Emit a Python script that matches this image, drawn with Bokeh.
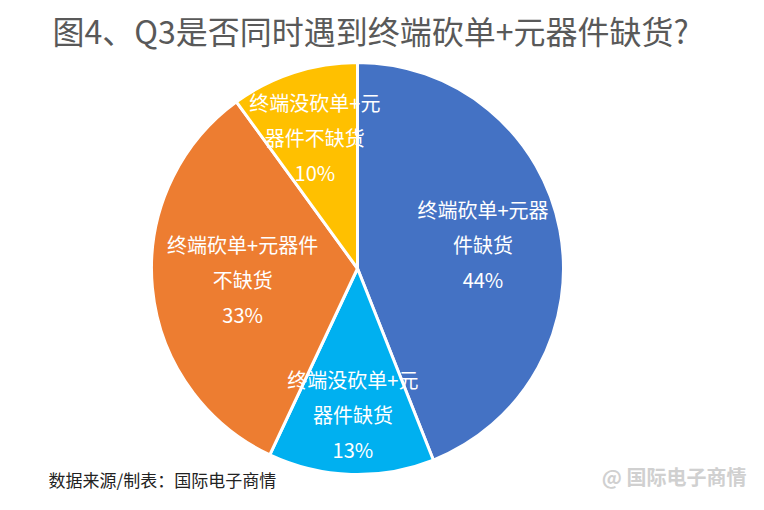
import math
from bokeh.plotting import figure
from bokeh.models import Range1d, ColumnDataSource
from bokeh.core.properties import value
from bokeh.embed import file_html
from bokeh.resources import INLINE

# ---- data ----
categories = ["终端砍单+元器件缺货", "终端没砍单+元器件缺货", "终端砍单+元器件不缺货", "终端没砍单+元器件不缺货"]
shares = [44, 13, 33, 10]
colors = ["#4472C4", "#00B0F0", "#ED7D31", "#FFC000"]
title_text = "图4、Q3是否同时遇到终端砍单+元器件缺货?"
source_text = "数据来源/制表：国际电子商情"
watermark_text = "@ 国际电子商情"

# ---- layout ----
W, H = 748, 494
wrap_at = [7, 7, 8, 7]              # characters on first label line
label_r = [0.62, 0.71, 0.56, 0.67]  # label distance as fraction of radius
REF_H = 510
CX, CY, R = 357, REF_H - 268, 206
LINE = 35
FONT = "Noto Sans CJK SC"

p = figure(width=W, height=H, output_backend="svg", toolbar_location=None,
           x_range=Range1d(0, W), y_range=Range1d(REF_H - H, REF_H),
           min_border=0, border_fill_color="white", background_fill_color="white")
p.axis.visible = False
p.grid.visible = False
p.outline_line_color = None

total = sum(shares)
cum = 0
starts, ends, mids = [], [], []
for s in shares:
    a0 = math.pi / 2 - 2 * math.pi * cum / total
    cum += s
    a1 = math.pi / 2 - 2 * math.pi * cum / total
    starts.append(a1)
    ends.append(a0)
    mids.append((a0 + a1) / 2)

src = ColumnDataSource(dict(start=starts, end=ends, color=colors))
p.wedge(x=CX, y=CY, radius=R, start_angle="start", end_angle="end",
        fill_color="color", line_color="white", line_width=3, source=src)

lx, ly, lt = [], [], []
for cat, s, m, w, rf in zip(categories, shares, mids, wrap_at, label_r):
    lines = [cat[:w], cat[w:], f"{s}%"]
    cx = CX + rf * R * math.cos(m)
    cy = CY + rf * R * math.sin(m)
    for i, t in enumerate(lines):
        lx.append(cx)
        ly.append(cy + (1 - i) * LINE)
        lt.append(t)
p.text(x=lx, y=ly, text=lt, text_color="white", text_font=value(FONT),
       text_font_size="20px", text_align="center", text_baseline="middle")

p.text(x=[52], y=[REF_H - 29], text=[title_text], text_color="#595959",
       text_font=value(FONT), text_font_size="32px", text_align="left", text_baseline="middle")
p.text(x=[48], y=[REF_H - 479], text=[source_text], text_color="#222222",
       text_font=value(FONT), text_font_size="17px", text_align="left", text_baseline="middle")
p.text(x=[746], y=[REF_H - 476], text=[watermark_text], text_color="#d0d0d0",
       text_font=value(FONT), text_font_size="20px", text_font_style="bold",
       text_align="right", text_baseline="middle")

open("out.html", "w").write(file_html(p, INLINE))
